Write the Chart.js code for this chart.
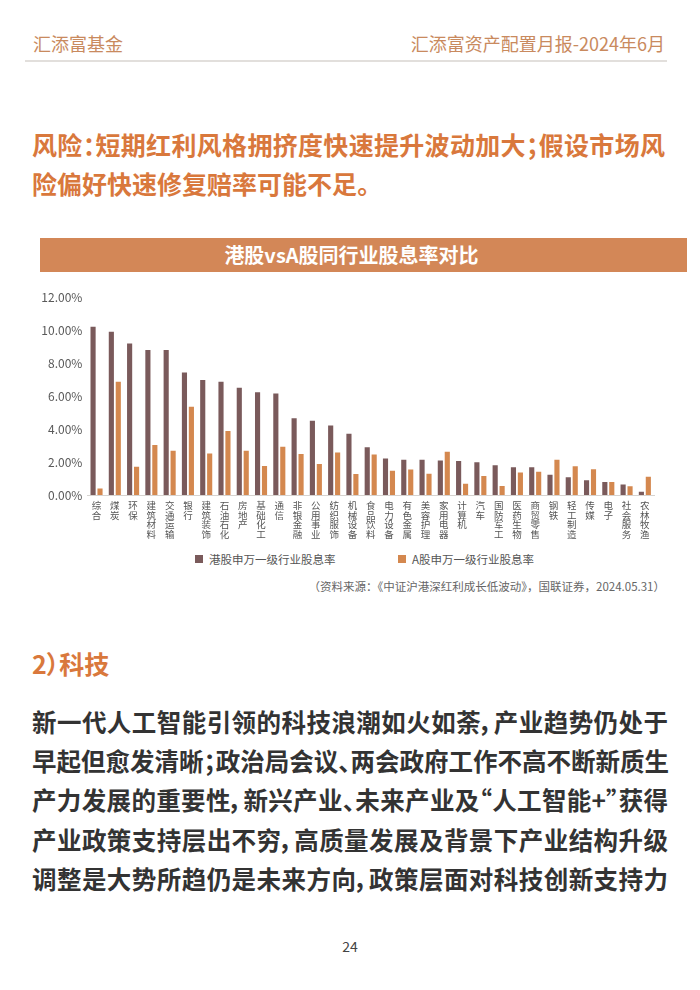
<!DOCTYPE html>
<html><head><meta charset="utf-8">
<script src="https://cdn.jsdelivr.net/npm/chart.js@4.4.1/dist/chart.umd.min.js"></script>
<style>
html,body{margin:0;padding:0;background:#fff;width:700px;height:990px;overflow:hidden;font-family:"Noto Sans CJK SC","Noto Sans",sans-serif;}
.abs{position:absolute;white-space:nowrap;}
#hdrL{left:33px;top:30px;font-size:18px;color:#c98a5e;}
#hdrR{right:35px;top:30px;font-size:18px;color:#c98a5e;}
#hline{left:25px;top:60px;width:642px;height:2px;background:#e2dfdc;}
.title{left:32px;font-size:25px;font-weight:bold;color:#d9783c;font-feature-settings:"palt";}
.just{text-align:justify;text-align-last:justify;}
#cbar{left:40px;top:238px;width:647px;height:34px;background:#d38757;}
#cbarT{left:40px;top:238px;width:623px;height:34px;color:#fff;font-weight:bold;font-size:20px;text-align:center;line-height:34px;}
#chartWrap{left:30px;top:285px;width:650px;height:255px;}
#legend{left:0;top:551px;width:700px;font-size:11.5px;color:#555;}
.lg{position:absolute;top:0;}
.lg i{display:inline-block;width:8px;height:8px;margin-right:6px;vertical-align:1px;}
#src{right:35px;top:578px;font-size:11.5px;color:#666;}
#sec{left:32px;top:645px;font-size:25px;font-weight:bold;color:#d9783c;font-feature-settings:"palt";}
.body{left:32px;width:636px;font-size:24.5px;font-weight:bold;color:#333;font-feature-settings:"palt";}
#pg{left:0;width:700px;text-align:center;top:936px;font-size:14px;color:#444;}
</style></head><body>
<div class="abs" id="hdrL">汇添富基金</div>
<div class="abs" id="hdrR">汇添富资产配置月报-2024年6月</div>
<div class="abs" id="hline"></div>
<div class="abs title just" style="top:126px;width:633px">风险：短期红利风格拥挤度快速提升波动加大；假设市场风</div>
<div class="abs title" style="top:165px">险偏好快速修复赔率可能不足。</div>
<div class="abs" id="cbar"></div>
<div class="abs" id="cbarT">港股vsA股同行业股息率对比</div>
<div class="abs" id="chartWrap"><canvas id="c" width="650" height="255"></canvas></div>
<div class="abs" id="legend"></div>
<div class="abs" id="src">（资料来源：《中证沪港深红利成长低波动》，国联证券，2024.05.31）</div>
<div class="abs" id="sec">2）科技</div>
<div class="abs body just" style="top:704px">新一代人工智能引领的科技浪潮如火如荼，产业趋势仍处于</div>
<div class="abs body just" style="top:743px">早起但愈发清晰；政治局会议、两会政府工作不高不断新质生</div>
<div class="abs body just" style="top:782px">产力发展的重要性，新兴产业、未来产业及“人工智能+”获得</div>
<div class="abs body just" style="top:822px">产业政策支持层出不穷，高质量发展及背景下产业结构升级</div>
<div class="abs body just" style="top:861px">调整是大势所趋仍是未来方向，政策层面对科技创新支持力</div>
<div class="abs" id="pg">24</div>
<script>
const categories = ["综合","煤炭","环保","建筑材料","交通运输","银行","建筑装饰","石油石化","房地产","基础化工","通信","非银金融","公用事业","纺织服饰","机械设备","食品饮料","电力设备","有色金属","美容护理","家用电器","计算机","汽车","国防军工","医药生物","商贸零售","钢铁","轻工制造","传媒","电子","社会服务","农林牧渔"];
const hkYield = [10.2,9.9,9.19,8.79,8.79,7.43,6.97,6.87,6.5,6.24,6.16,4.65,4.5,4.22,3.72,2.89,2.22,2.14,2.14,2.1,2.06,1.98,1.8,1.68,1.68,1.23,1.07,0.89,0.79,0.63,0.2];
const aYield = [0.4,6.87,1.72,3.03,2.69,5.35,2.52,3.88,2.69,1.76,2.93,2.48,1.88,2.58,1.27,2.46,1.47,1.54,1.29,2.63,0.69,1.15,0.55,1.37,1.41,2.14,1.74,1.56,0.79,0.53,1.11];
const seriesNames = ["港股申万一级行业股息率","A股申万一级行业股息率"];
const seriesColors = ["#7a5a5b","#d4884f"];
const yTicks = [0,2,4,6,8,10,12];

const FONT = '"Noto Sans CJK SC","Noto Sans",sans-serif';
const chart = new Chart(document.getElementById('c'), {
  type: 'bar',
  data: {
    labels: categories.map(s => s.split('')),
    datasets: [
      {label: seriesNames[0], data: hkYield, backgroundColor: seriesColors[0]},
      {label: seriesNames[1], data: aYield, backgroundColor: seriesColors[1]}
    ]
  },
  options: {
    responsive: false,
    animation: false,
    devicePixelRatio: 1,
    layout: {padding: {left: 0, right: 26, top: 12, bottom: 0}},
    datasets: {bar: {categoryPercentage: 0.76, barPercentage: 0.74}},
    plugins: {legend: {display: false}, tooltip: {enabled: false}},
    scales: {
      x: {
        grid: {display: false, drawTicks: false},
        border: {display: true, color: '#d6d3d0', width: 1},
        ticks: {autoSkip: false, maxRotation: 0, minRotation: 0, padding: 6, color: '#555',
                font: {family: FONT, size: 9.5, lineHeight: 1.0}},
        afterFit: s => { s.height = 45; }
      },
      y: {
        min: 0, max: 12,
        grid: {display: false, drawTicks: false},
        border: {display: false},
        afterBuildTicks: s => { s.ticks = yTicks.map(v => ({value: v})); },
        ticks: {padding: 5, color: '#595959', font: {family: FONT, size: 12},
                callback: v => Number(v).toFixed(2) + '%'},
        afterFit: s => { s.width = 57.4; }
      }
    }
  }
});

// legend built from dataset names/colors
const lg = document.getElementById('legend');
const lefts = [195, 398];
seriesNames.forEach((n, i) => {
  const d = document.createElement('div');
  d.className = 'lg';
  d.style.left = lefts[i] + 'px';
  d.innerHTML = '<i style="background:' + seriesColors[i] + '"></i>' + n;
  lg.appendChild(d);
});
</script>
</body></html>
